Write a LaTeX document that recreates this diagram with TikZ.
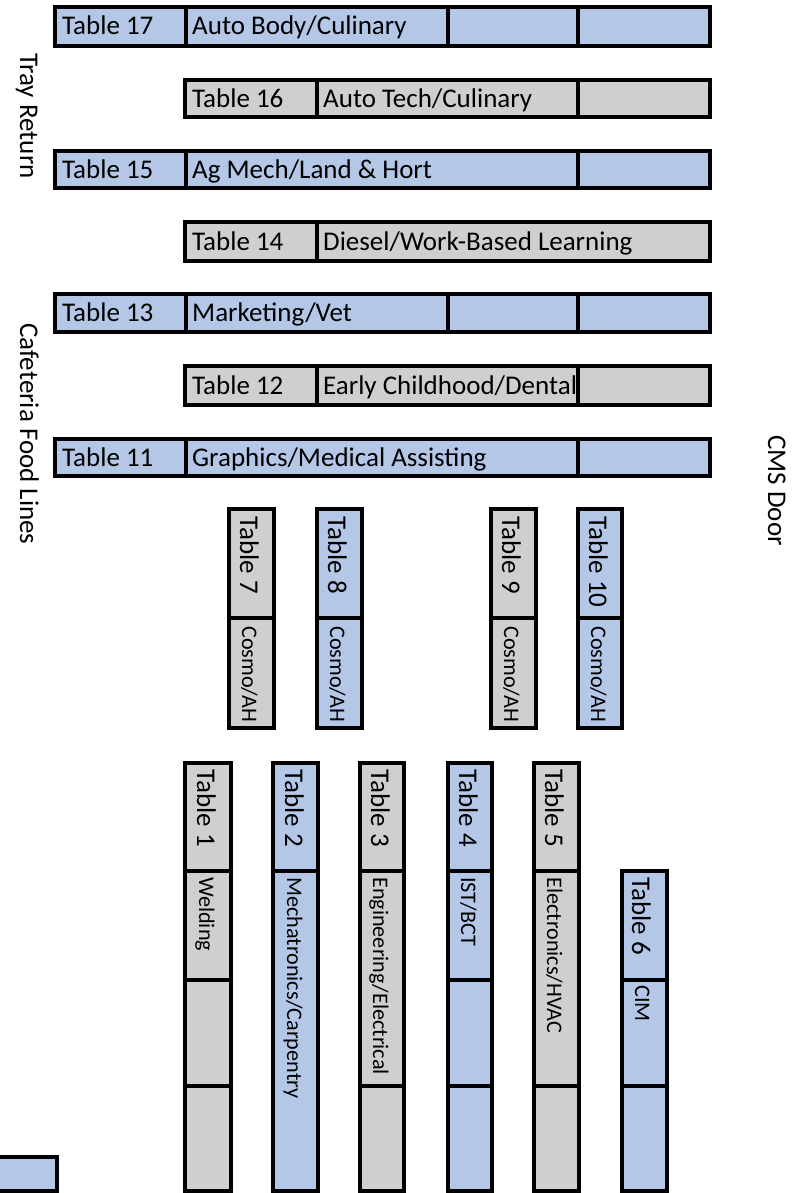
\documentclass[tikz,border=0pt]{standalone}
\usepackage{fontspec}
\setmainfont{Carlito}
\definecolor{cblue}{HTML}{B4C7E7}
\definecolor{cgrey}{HTML}{D0CECE}
\tikzset{
  frame/.style={line width=3.2pt, draw=black, line join=miter},
  bigtxt/.style={inner sep=0pt, anchor=base west, font=\fontsize{27}{32}\selectfont},
  smalltxt/.style={inner sep=0pt, anchor=base west, font=\fontsize{22.2}{26}\selectfont},
  vert/.style={rotate=-90},
}
% horizontal table: colour, x1, y1, x2, y2, list of divider x
\newcommand\htabbox[6]{%
  \fill[#1] (#2,#3) rectangle (#4,#5);
  \foreach \dv in {#6} {\draw[frame] (\dv,#3) -- (\dv,#5);}
  \draw[frame] (#2,#3) rectangle (#4,#5);
}
% vertical table: colour, x1, y1, x2, y2, list of divider y
\newcommand\vtabbox[6]{%
  \fill[#1] (#2,#3) rectangle (#4,#5);
  \foreach \dv in {#6} {\draw[frame] (#2,\dv) -- (#4,\dv);}
  \draw[frame] (#2,#3) rectangle (#4,#5);
}
\begin{document}
\begin{tikzpicture}[x=1pt,y=-1pt]
\useasboundingbox (0,0) rectangle (793,1193);
\clip (0,0) rectangle (793,1193);

% ---- horizontal tables ----
\htabbox{cblue}{55}{7}{710}{46}{186,448,578}
\node[bigtxt] (t17n) at (62,35) {Table 17};
\node[bigtxt] (t17d) at (192,35) {Auto Body/Culinary};

\htabbox{cgrey}{185}{80}{710}{117}{317,578}
\node[bigtxt] (t16n) at (192,107.5) {Table 16};
\node[bigtxt] (t16d) at (323,107.5) {Auto Tech/Culinary};

\htabbox{cblue}{55}{151}{710}{188}{186,578}
\node[bigtxt] (t15n) at (62,178.5) {Table 15};
\node[bigtxt] (t15d) at (192,178.5) {Ag Mech/Land \& Hort};

\htabbox{cgrey}{185}{222}{710}{261}{317}
\node[bigtxt] (t14n) at (192,250.5) {Table 14};
\node[bigtxt] (t14d) at (323,250.5) {Diesel/Work-Based Learning};

\htabbox{cblue}{55}{294}{710}{332}{186,448,578}
\node[bigtxt] (t13n) at (62,321.5) {Table 13};
\node[bigtxt] (t13d) at (192,321.5) {Marketing/Vet};

\htabbox{cgrey}{185}{366}{710}{405}{317,578}
\node[bigtxt] (t12n) at (192,394.5) {Table 12};
\node[bigtxt] (t12d) at (323,394.5) {Early Childhood/Dental};

\htabbox{cblue}{55}{439}{710}{476}{186,578}
\node[bigtxt] (t11n) at (62,466.5) {Table 11};
\node[bigtxt] (t11d) at (192,466.5) {Graphics/Medical Assisting};

% ---- small vertical tables ----
\vtabbox{cgrey}{229}{509}{274}{728}{618}
\node[bigtxt,vert] (t7n) at (240,516) {Table 7};
\node[smalltxt,vert] (t7d) at (242,626) {Cosmo/AH};

\vtabbox{cblue}{317}{509}{362}{728}{618}
\node[bigtxt,vert] (t8n) at (328,516) {Table 8};
\node[smalltxt,vert] (t8d) at (330,626) {Cosmo/AH};

\vtabbox{cgrey}{491}{509}{536}{728}{618}
\node[bigtxt,vert] (t9n) at (502,516) {Table 9};
\node[smalltxt,vert] (t9d) at (504,626) {Cosmo/AH};

\vtabbox{cblue}{578}{509}{622}{728}{618}
\node[bigtxt,vert] (t10n) at (589,516) {Table 10};
\node[smalltxt,vert] (t10d) at (591,626) {Cosmo/AH};

% ---- long vertical tables ----
\vtabbox{cgrey}{185}{763}{231}{1191}{871,980,1086}
\node[bigtxt,vert] (t1n) at (197,769) {Table 1};
\node[smalltxt,vert] (t1d) at (199,877) {Welding};

\vtabbox{cblue}{273}{763}{318}{1191}{871}
\node[bigtxt,vert] (t2n) at (285,769) {Table 2};
\node[smalltxt,vert] (t2d) at (287,877) {Mechatronics/Carpentry};

\vtabbox{cgrey}{360}{763}{404}{1191}{871,1086}
\node[bigtxt,vert] (t3n) at (371,769) {Table 3};
\node[smalltxt,vert] (t3d) at (373,877) {Engineering/Electrical};

\vtabbox{cblue}{448}{763}{492}{1191}{871,980,1086}
\node[bigtxt,vert] (t4n) at (459,769) {Table 4};
\node[smalltxt,vert] (t4d) at (461,877) {IST/BCT};

\vtabbox{cgrey}{534}{763}{579}{1191}{871,1086}
\node[bigtxt,vert] (t5n) at (545,769) {Table 5};
\node[smalltxt,vert] (t5d) at (547,877) {Electronics/HVAC};

\vtabbox{cblue}{622}{871}{667}{1191}{980,1086}
\node[bigtxt,vert] (t6n) at (632,877) {Table 6};
\node[smalltxt,vert] (t6d) at (635,985) {CIM};

% ---- small box bottom left ----
\vtabbox{cblue}{-5}{1157}{57}{1191}{}

% ---- side labels ----
\node[bigtxt,vert] (tray) at (20,53) {Tray Return};
\node[bigtxt,vert] (food) at (20,323) {Cafeteria Food Lines};
\node[bigtxt,vert] (cms) at (768,435) {CMS Door};
\end{tikzpicture}
\end{document}
